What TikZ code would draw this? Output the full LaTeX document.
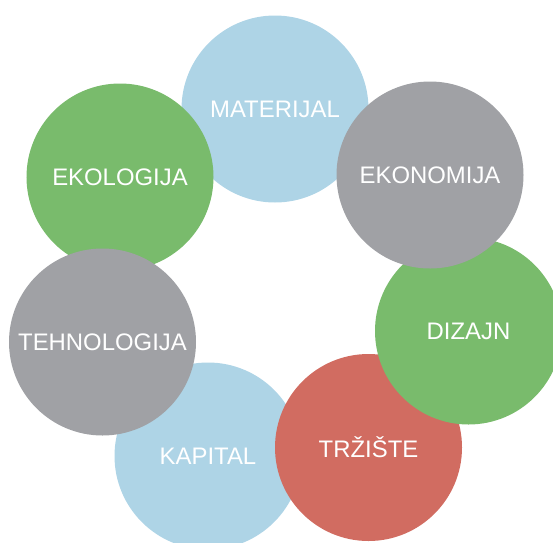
\documentclass[tikz,border=0pt]{standalone}
\usepackage{fontspec}
\setmainfont{Liberation Sans}
\usepackage{tikz-network}

\definecolor{ringblue}{RGB}{174,212,230}
\definecolor{ringgreen}{RGB}{121,187,108}
\definecolor{ringgray}{RGB}{160,161,165}
\definecolor{ringred}{RGB}{209,108,97}

\begin{document}
\begin{tikzpicture}

\useasboundingbox (0,0) rectangle (11.06,10.84);

\SetVertexStyle[LineWidth=0, LineOpacity=0, TextColor=white, InnerSep=2, OuterSep=0, TextFont=\fontsize{13.6}{16}\selectfont]

\Vertex[x=5.50,y=8.66,size=3.74,color=ringblue,label=MATERIJAL]{M_1}
\Vertex[x=4.16,y=1.72,size=3.74,color=ringblue,label=KAPITAL]{K_1}
\Vertex[x=7.37,y=1.89,size=3.74,color=ringred,label=TRŽIŠTE]{T_1}
\Vertex[x=9.37,y=4.22,size=3.74,color=ringgreen,label=DIZAJN]{D_1}
\Vertex[x=8.60,y=7.34,size=3.74,color=ringgray,label=EKONOMIJA]{E_2}
\Vertex[x=2.40,y=7.30,size=3.74,color=ringgreen,label=EKOLOGIJA]{E_1}
\Vertex[x=2.05,y=4.00,size=3.74,color=ringgray,label=TEHNOLOGIJA]{T_2}

\end{tikzpicture}
\end{document}
